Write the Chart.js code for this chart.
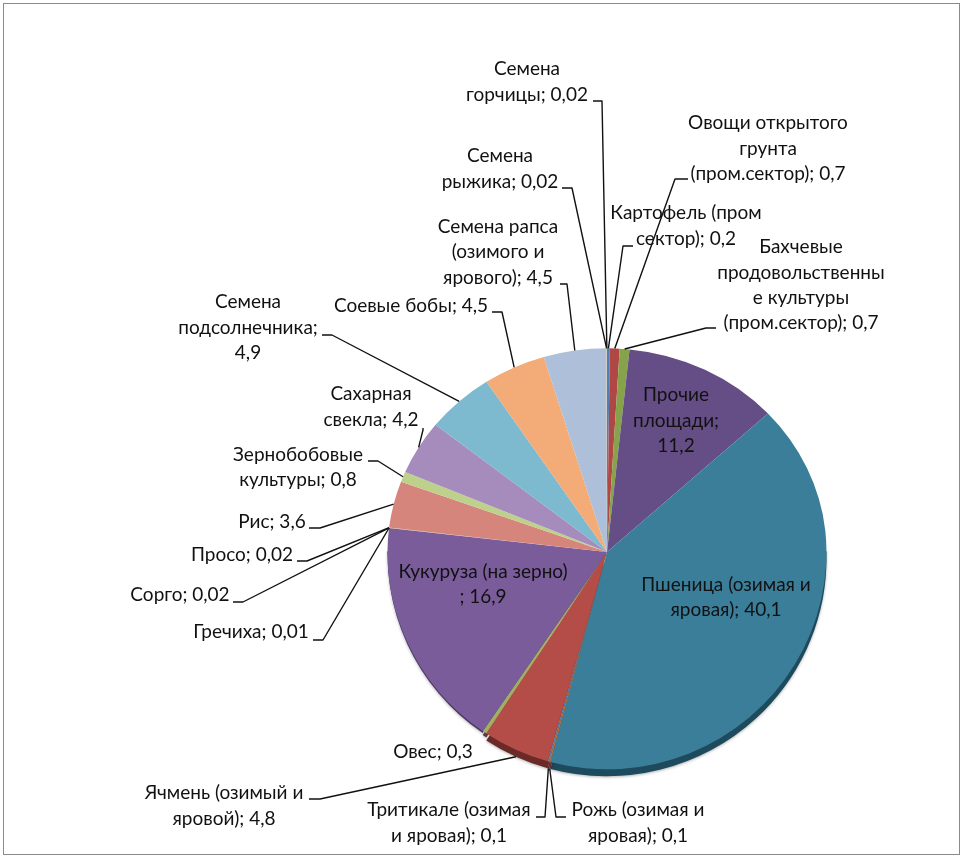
<!DOCTYPE html>
<html lang="ru">
<head>
<meta charset="utf-8">
<script src="https://cdn.jsdelivr.net/npm/chart.js@4"></script>
<style>
html,body{margin:0;padding:0;background:#fff;}
#wrap{position:relative;width:964px;height:860px;overflow:hidden;}
#frame{position:absolute;left:3px;top:3px;width:955px;height:850px;border:1.5px solid #8a8a8a;}
canvas{position:absolute;left:0;top:0;}
</style>
</head>
<body>
<div id="wrap"><div id="frame"></div><canvas id="c" width="964" height="860"></canvas></div>
<script>
const categories = ["Картофель (пром сектор)","Овощи открытого грунта (пром.сектор)","Бахчевые продовольственные культуры (пром.сектор)","Прочие площади","Пшеница (озимая и яровая)","Рожь (озимая и яровая)","Тритикале (озимая и яровая)","Ячмень (озимый и яровой)","Овес","Кукуруза (на зерно)","Гречиха","Сорго","Просо","Рис","Зернобобовые культуры","Сахарная свекла","Семена подсолнечника","Соевые бобы","Семена рапса (озимого и ярового)","Семена рыжика","Семена горчицы"];
const values = [0.2,0.7,0.7,11.2,40.1,0.1,0.1,4.8,0.3,16.9,0.01,0.02,0.02,3.6,0.8,4.2,4.9,4.5,4.5,0.02,0.02];
const labelLines = [
 ["Картофель (пром","сектор); 0,2"],
 ["Овощи открытого","грунта","(пром.сектор); 0,7"],
 ["Бахчевые","продовольственны","е культуры","(пром.сектор); 0,7"],
 ["Прочие","площади;","11,2"],
 ["Пшеница (озимая и","яровая); 40,1"],
 ["Рожь (озимая и","яровая); 0,1"],
 ["Тритикале (озимая","и яровая); 0,1"],
 ["Ячмень (озимый и","яровой); 4,8"],
 ["Овес; 0,3"],
 ["Кукуруза (на зерно)","; 16,9"],
 ["Гречиха; 0,01"],
 ["Сорго; 0,02"],
 ["Просо; 0,02"],
 ["Рис; 3,6"],
 ["Зернобобовые","культуры; 0,8"],
 ["Сахарная","свекла; 4,2"],
 ["Семена","подсолнечника;","4,9"],
 ["Соевые бобы; 4,5"],
 ["Семена рапса","(озимого и","ярового); 4,5"],
 ["Семена","рыжика; 0,02"],
 ["Семена","горчицы; 0,02"]
];
const sliceColors = ["#4F7FB8","#AF4844","#86A24A","#644E85","#3B7E9A","#B5763C","#5F86B5","#B44D47","#A3AE63","#7A5C9B","#4BACC6","#F79646","#95B3D7","#D5857C","#BDD08C","#A68CBC","#7DB9CF","#F3AB78","#AEBFDA","#D99694","#C3D69B"];
const rimColors = {4:"#1D4A5C",5:"#6E2B29",6:"#6E2B29",7:"#6B2A28",8:"#5A3A3A",9:"#4A3663"};
const rimDepths = {4:7,5:7,6:7,7:7,8:4,9:2};
/* label layout: centre x of the block, centre y of each line; optional leader start + elbow */
const labelLayout = [
 {x:686,y:[213,239],lead:[[633,246],[623,246]]},
 {x:768,y:[123,149,174],lead:[[688,179],[675,179]]},
 {x:801,y:[247,273,298,323],lead:[[716,328],[706,328]]},
 {x:676,y:[395,421,446]},
 {x:726,y:[585,610]},
 {x:638,y:[810,836],lead:[[566,817],[556,817]]},
 {x:449,y:[810,836],lead:[[536,817],[545,817]]},
 {x:224,y:[793,819],lead:[[309,799],[320,799]]},
 {x:433,y:[752]},
 {x:483,y:[572,597]},
 {x:251,y:[632],lead:[[313,640],[323,640]]},
 {x:180,y:[595],lead:[[233,602],[243,602]]},
 {x:242,y:[555],lead:[[297,561],[307,561]]},
 {x:272,y:[522],lead:[[309,528],[320,528]]},
 {x:298,y:[455,480],lead:[[368,461],[378,461]]},
 {x:371,y:[394,420],lead:[[423,428],[423,430]]},
 {x:248,y:[302,328,353],lead:[[322,335],[332,335]]},
 {x:411,y:[306],lead:[[492,312],[502,312]]},
 {x:498,y:[227,252,278],lead:[[560,284],[567,284]]},
 {x:500,y:[156,182],lead:[[562,188],[572,188]]},
 {x:527,y:[69,95],lead:[[593,101],[602,101]]}
];
const apexY = 552, topSquash = 0.928, bottomSquash = 0.99;

function withHalf(ctx, a, top, fn){
  ctx.save();
  ctx.beginPath();
  if(top) ctx.rect(0,0,964,apexY+0.5); else ctx.rect(0,apexY-0.5,964,860);
  ctx.clip();
  ctx.translate(0,apexY);
  ctx.scale(1,top?topSquash:bottomSquash);
  ctx.translate(0,-a.y);
  fn();
  ctx.restore();
}

const piePlugin = {
  id:'piePlugin',
  beforeDatasetsDraw(chart){
    const ctx = chart.ctx, arcs = chart.getDatasetMeta(0).data;
    withHalf(ctx, arcs[0], false, ()=>{
      ctx.shadowColor='rgba(0,0,0,0.3)';ctx.shadowBlur=3;ctx.shadowOffsetY=1;
      arcs.forEach((a,i)=>{
        if(!rimColors[i]) return;
        const d=rimDepths[i];
        ctx.beginPath();
        ctx.moveTo(a.x,a.y+d);
        ctx.arc(a.x,a.y+d,a.outerRadius,a.startAngle,a.endAngle);
        ctx.closePath();
        ctx.fillStyle=rimColors[i];
        ctx.fill();
      });
    });
    [true,false].forEach(top=>withHalf(ctx, arcs[0], top, ()=>arcs.forEach(a=>a.draw(ctx))));
    return false;
  },
  afterDraw(chart){
    const ctx = chart.ctx, arcs = chart.getDatasetMeta(0).data;
    ctx.save();
    ctx.strokeStyle='#111';ctx.lineWidth=1.4;ctx.lineJoin='round';
    arcs.forEach((a,i)=>{
      const L = labelLayout[i];
      if(L.lead){
        const mid=(a.startAngle+a.endAngle)/2;
        const s=Math.sin(mid);
        const ax=a.x+a.outerRadius*Math.cos(mid);
        const ay=apexY+a.outerRadius*(s<0?topSquash:bottomSquash)*s+(rimDepths[i]||0);
        ctx.beginPath();
        ctx.moveTo(L.lead[0][0],L.lead[0][1]);
        ctx.lineTo(L.lead[1][0],L.lead[1][1]);
        ctx.lineTo(ax,ay);
        ctx.stroke();
      }
    });
    ctx.font='19px Lato, "Open Sans", sans-serif';
    ctx.textAlign='center';ctx.textBaseline='middle';
    ctx.fillStyle='#111';
    labelLines.forEach((lines,i)=>{
      lines.forEach((t,k)=>ctx.fillText(t,labelLayout[i].x,labelLayout[i].y[k]));
    });
    ctx.restore();
  }
};

new Chart(document.getElementById('c'),{
  type:'pie',
  data:{labels:categories,datasets:[{data:values,backgroundColor:sliceColors,borderWidth:0,clip:false}]},
  options:{
    responsive:false,animation:false,
    layout:{padding:{left:387.5,right:137.5,top:332.5,bottom:88.5}},
    plugins:{legend:{display:false},tooltip:{enabled:false},title:{display:false}}
  },
  plugins:[piePlugin]
});
</script>
</body>
</html>
